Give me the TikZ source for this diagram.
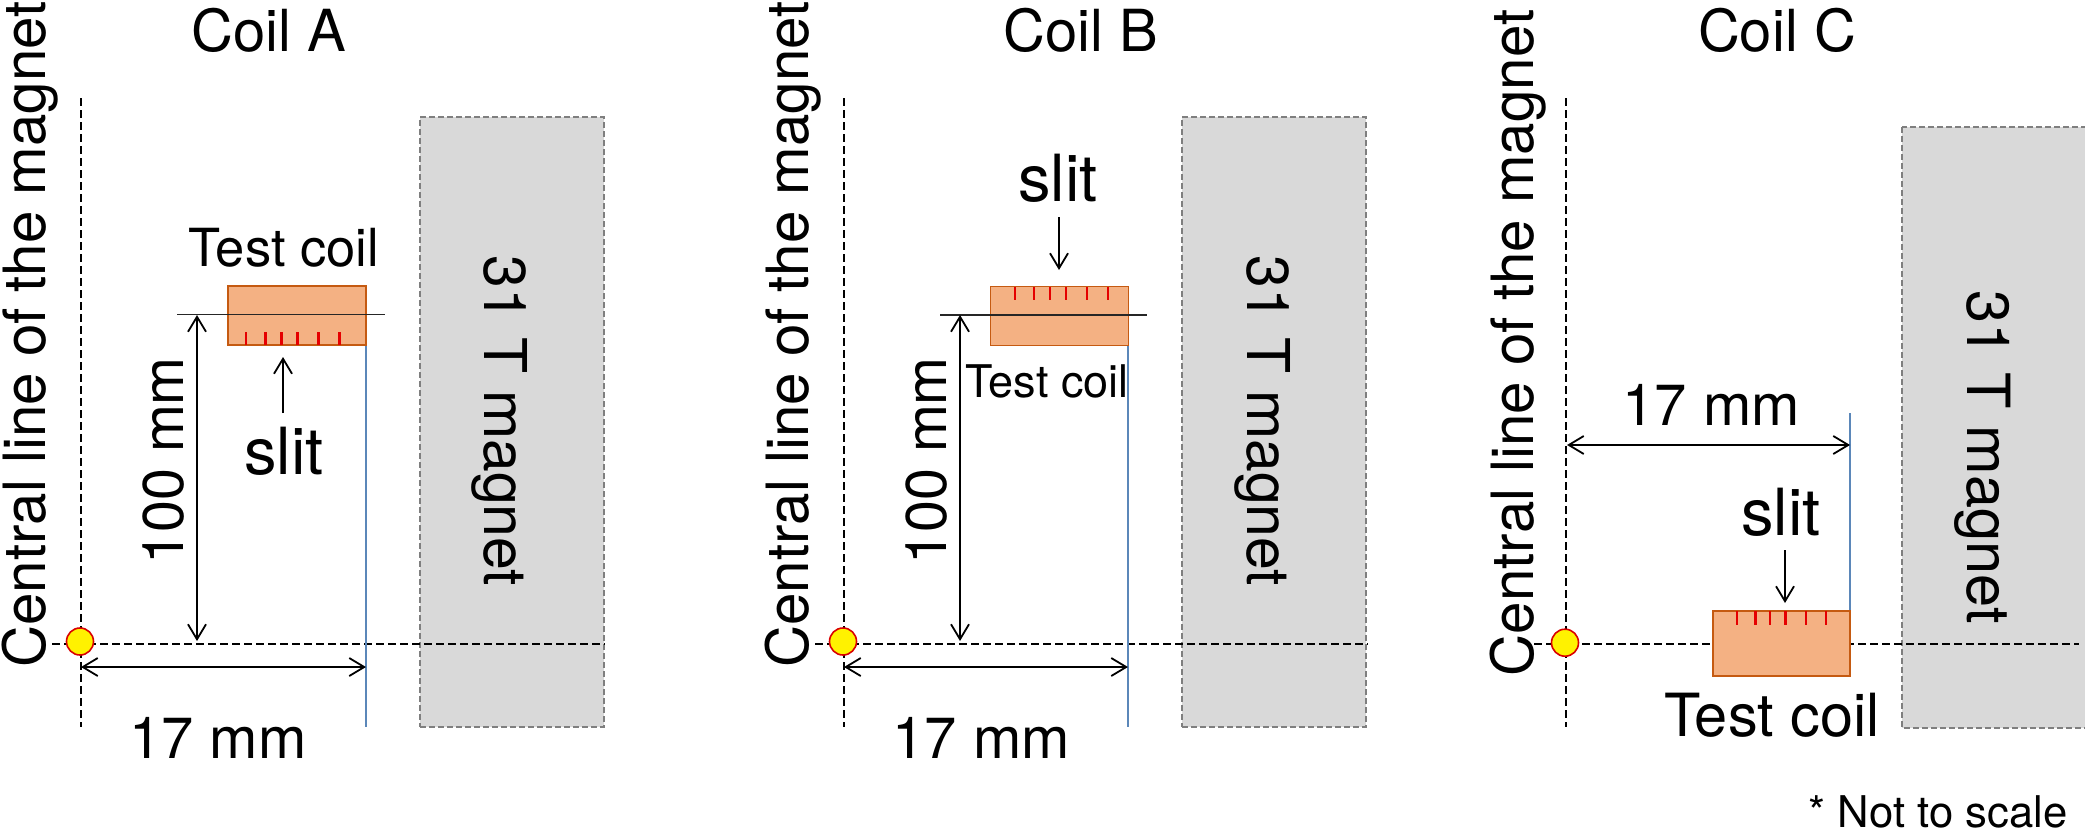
\documentclass[tikz,border=0pt]{standalone}
\usepackage{fontspec}
\setmainfont{TeX Gyre Heros}
\usetikzlibrary{arrows.meta}
\definecolor{coilfill}{RGB}{244,177,131}
\definecolor{coilline}{RGB}{197,90,17}
\definecolor{magfill}{RGB}{217,217,217}
\definecolor{magline}{RGB}{127,127,127}
\definecolor{blueline}{RGB}{91,135,185}
\tikzset{
  x=1pt,y=-1pt,
  txt/.style={inner sep=0pt,font=\fontsize{#1}{#1}\selectfont},
  centraltext/.style={inner sep=0pt,rotate=90,anchor=base,font=\fontsize{58.3}{58.3}\selectfont},
  magnetbox/.style={draw=magline,fill=magfill,line width=1.6pt,dash pattern=on 6pt off 3pt},
  coilbox/.style={draw=coilline,fill=coilfill,line width=1.6pt},
  cline/.style={line width=2.5pt,dash pattern=on 8pt off 4pt},
  blue line/.style={draw=blueline,line width=2.1pt},
  thinline/.style={line width=1.2pt,draw=black!85},
  dim/.style={line width=1.8pt,{Straight Barb[length=15pt,width=18pt,line width=1.8pt]}-{Straight Barb[length=15pt,width=18pt,line width=1.8pt]}},
  pointer/.style={line width=1.8pt,-{Straight Barb[length=15pt,width=18pt,line width=1.8pt]}},
  slitmark/.style={draw=red!90!black,line width=2.2pt},
  centre/.style={circle,draw=red!85!black,fill=yellow,line width=1.6pt,minimum size=27pt,inner sep=0pt},
}
\begin{document}
\begin{tikzpicture}
\useasboundingbox (0,0) rectangle (2085,830);

% ---------- Coil A ----------
\node[magnetbox,minimum width=184pt,minimum height=610pt,inner sep=0pt] (magA) at (512,422) {};
\coordinate (cAt) at (81,98); \coordinate (cAb) at (81,727);
\coordinate (hAl) at (52,644); \coordinate (hAr) at (605,644);
\draw[cline] (cAt) -- (cAb);
\draw[cline] (hAl) -- (hAr);
\coordinate (bAt) at (366,345); \coordinate (bAb) at (366,727);
\draw[blue line] (bAt) -- (bAb);
\node[coilbox,minimum width=138pt,minimum height=59pt,inner sep=0pt] (coilA) at (297,315.5) {};
\foreach \x in {246,265.5,281.5,297.5,318.5,339.5} \draw[slitmark] (\x,332) -- (\x,345);
\coordinate (lAl) at (177,314.5); \coordinate (lAr) at (385,314.5);
\draw[thinline] (lAl) -- (lAr);
\node[centre] (oA) at (80,641.5) {};
\coordinate (dAa) at (197,315); \coordinate (dAb) at (197,641);
\draw[dim] (dAa) -- (dAb);
\coordinate (eAa) at (81,667); \coordinate (eAb) at (366,667);
\draw[dim] (eAa) -- (eAb);
\node[txt=58] (tA) at (269,30) {Coil A};
\node[centraltext] (clA) at (45,334.5) {Central line of the magnet};
\node[txt=52.5] (tcA) at (284,248) {Test coil};
\node[txt=65] (sA) at (284,451) {slit};
\coordinate (sAa) at (283,413); \coordinate (sAb) at (283,357);
\draw[pointer] (sAa) -- (sAb);
\node[txt=57.5,rotate=90] (hdA) at (164,461) {100 mm};
\node[txt=58] (wdA) at (218,738) {17 mm};
\node[txt=59,rotate=-90] (mA) at (500,421) {31 T magnet};

% ---------- Coil B ----------
\node[magnetbox,minimum width=184pt,minimum height=610pt,inner sep=0pt] (magB) at (1274,422) {};
\coordinate (cBt) at (844,98); \coordinate (cBb) at (844,727);
\coordinate (hBl) at (815,644); \coordinate (hBr) at (1368,644);
\draw[cline] (cBt) -- (cBb);
\draw[cline] (hBl) -- (hBr);
\coordinate (bBt) at (1128,345); \coordinate (bBb) at (1128,727);
\draw[blue line] (bBt) -- (bBb);
\node[coilbox,minimum width=138pt,minimum height=59pt,inner sep=0pt] (coilB) at (1059.5,316) {};
\foreach \x in {1015,1034,1050,1066,1087,1108} \draw[slitmark] (\x,287) -- (\x,300);
\coordinate (lBl) at (940,315); \coordinate (lBr) at (1147,315);
\draw[thinline] (lBl) -- (lBr);
\node[centre] (oB) at (843,641.5) {};
\coordinate (dBa) at (960,315); \coordinate (dBb) at (960,641);
\draw[dim] (dBa) -- (dBb);
\coordinate (eBa) at (844,667); \coordinate (eBb) at (1128,667);
\draw[dim] (eBa) -- (eBb);
\node[txt=58] (tB) at (1081,30) {Coil B};
\node[centraltext] (clB) at (808,334.5) {Central line of the magnet};
\node[txt=45] (tcB) at (1047,381) {Test coil};
\node[txt=65] (sB) at (1058,178) {slit};
\coordinate (sBa) at (1059,217); \coordinate (sBb) at (1059,270);
\draw[pointer] (sBa) -- (sBb);
\node[txt=57.5,rotate=90] (hdB) at (927,461) {100 mm};
\node[txt=58] (wdB) at (981,738) {17 mm};
\node[txt=59,rotate=-90] (mB) at (1263,421) {31 T magnet};

% ---------- Coil C ----------
\path[magnetbox] (1902,127) rectangle (2100,728);
\coordinate (magC) at (1902,127);
\coordinate (cCt) at (1566,98); \coordinate (cCb) at (1566,727);
\coordinate (hCl) at (1534,644); \coordinate (hCr) at (2079,644);
\draw[cline] (cCt) -- (cCb);
\draw[cline] (hCl) -- (hCr);
\coordinate (bCt) at (1850,413); \coordinate (bCb) at (1850,644);
\draw[blue line] (bCt) -- (bCb);
\node[coilbox,minimum width=137pt,minimum height=65pt,inner sep=0pt] (coilC) at (1781.5,643.5) {};
\foreach \x in {1737,1755.5,1770,1785.5,1806,1826} \draw[slitmark] (\x,611) -- (\x,625);
\node[centre] (oC) at (1565,642.7) {};
\coordinate (eCa) at (1567,445); \coordinate (eCb) at (1850,445);
\draw[dim] (eCa) -- (eCb);
\node[txt=58] (tC) at (1777,30) {Coil C};
\node[centraltext] (clC) at (1533,343) {Central line of the magnet};
\node[txt=59.5] (tcC) at (1772,715) {Test coil};
\node[txt=65] (sC) at (1781,512) {slit};
\coordinate (sCa) at (1785,550); \coordinate (sCb) at (1785,603);
\draw[pointer] (sCa) -- (sCb);
\node[txt=58] (wdC) at (1711,404.5) {17 mm};
\node[txt=59.5,rotate=-90] (mC) at (1983,457) {31 T magnet};
\node[txt=43.7] (nts) at (1938,812) {* Not to scale};
\end{tikzpicture}
\end{document}
